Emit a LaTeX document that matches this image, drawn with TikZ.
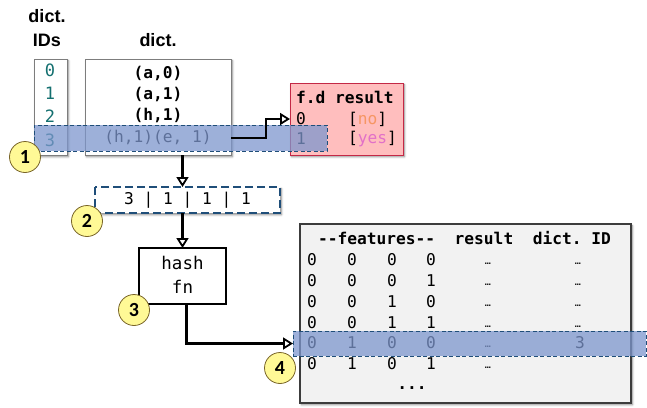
\documentclass[tikz,border=0pt]{standalone}
\usepackage{fontspec}
\setmainfont{Liberation Sans}
\newfontfamily\codefont{DejaVu Sans Mono}
\newfontfamily\markfont{Carlito}
\usetikzlibrary{arrows.meta,shadows.blur,calc}

\definecolor{idteal}{RGB}{20,112,112}
\definecolor{boxgray}{RGB}{125,125,125}
\definecolor{fdpink}{RGB}{255,190,190}
\definecolor{fdred}{RGB}{196,40,70}
\definecolor{noorange}{RGB}{246,150,100}
\definecolor{yespink}{RGB}{226,112,200}
\definecolor{bandblue}{RGB}{125,150,205}
\definecolor{bandedge}{RGB}{31,78,121}
\definecolor{markyellow}{RGB}{255,249,150}
\definecolor{markedge}{RGB}{120,100,40}
\definecolor{tabfill}{RGB}{242,242,242}
\definecolor{tabedge}{RGB}{60,60,60}

\tikzset{
  softshadow/.style={blur shadow={shadow xshift=1.5pt, shadow yshift=-1.8pt,
      shadow blur steps=5, shadow blur radius=2pt, shadow opacity=45}},
  % a shadowed, borderless card; its outline is stroked afterwards
  card/.style={fill=white, anchor=north west, outer sep=0pt, inner sep=0pt, softshadow},
  outline/.style={draw=boxgray, line width=1pt},
  title/.style={font=\fontsize{18}{20}\selectfont\bfseries, inner sep=0pt},
  code/.style={font=\codefont\fontsize{16.2}{18}\selectfont, inner sep=0pt},
  codeb/.style={font=\codefont\bfseries\fontsize{16.2}{18}\selectfont, inner sep=0pt},
  bigcode/.style={font=\codefont\fontsize{17.5}{20}\selectfont, inner sep=0pt},
  dots/.style={font=\codefont\fontsize{10}{12}\selectfont, inner sep=0pt},
  idtxt/.style={font=\codefont\fontsize{17}{18}\selectfont, inner sep=0pt, text=idteal},
  band/.style={draw=bandedge, dash pattern=on 4pt off 2.5pt, line width=1pt,
      fill=bandblue, fill opacity=0.75, anchor=north west, outer sep=0pt,
      inner sep=0pt},
  keyline/.style={draw=bandedge, dash pattern=on 8pt off 4pt, line width=2.6pt},
  marker/.style={circle, draw=markedge, line width=0.8pt, fill=markyellow,
      minimum size=31pt, inner sep=0pt,
      font=\markfont\bfseries\fontsize{20}{20}\selectfont},
  flow/.style={line width=2.2pt,
      -{Triangle[open, length=10pt, width=12pt, line width=1.8pt, fill=white]}},
}

\begin{document}
\begin{tikzpicture}[x=1pt, y=-1pt]
\useasboundingbox (0,0) rectangle (647,407);

% column headings
\node[title] (hdid1) at (47,16) {dict.};
\node[title] (hdid2) at (47,40) {IDs};
\node[title] (hddict) at (158,40) {dict.};

% dictionary and its ids
\node[card, minimum width=33pt, minimum height=96pt] (ids) at (34,59) {};
\node[card, minimum width=146pt, minimum height=96pt] (dict) at (85,59) {};
\draw[outline] (ids.north west) rectangle (ids.south east);
\draw[outline] (dict.north west) rectangle (dict.south east);

\node[idtxt] (id0) at (50,70) {0};
\node[idtxt] (id1) at (50,93) {1};
\node[idtxt] (id2) at (50,116) {2};
\node[idtxt] (id3) at (50,140) {3};

\node[codeb] (d0) at (158,73) {(a,0)};
\node[codeb] (d1) at (158,94) {(a,1)};
\node[codeb] (d2) at (158,115) {(h,1)};
\node[code] (d3) at (158,137) {(h,1)(e, 1)};

% lookup result table
\node[card, fill=fdpink, minimum width=113pt, minimum height=72pt] (fd) at (290,83) {};
\draw[outline, draw=fdred] (fd.north west) rectangle (fd.south east);
\node[codeb, anchor=west] (fdh) at (296,97) {f.d result};
\node[code, anchor=west] (fd0) at (296,119) {0};
\node[code, anchor=west] (fd0v) at (348,119) {[\textcolor{noorange}{no}]};
\node[code, anchor=west] (fd1) at (296,139) {1};
\node[code, anchor=west] (fd1v) at (348,139) {[\textcolor{yespink}{yes}]};

% feature key
\node[card, minimum width=185pt, minimum height=26pt] (key) at (95,187) {};
\draw[keyline] (key.north west) rectangle (key.south east);
\node[code] (keytxt) at (187.5,200) {3 | 1 | 1 | 1};

% hash function
\node[draw, line width=1.6pt, anchor=north west, minimum width=87pt,
      minimum height=56pt, outer sep=0pt, inner sep=0pt] (hash) at (139,248) {};
\node[bigcode] (hash1) at (182.5,263) {hash};
\node[bigcode] (hash2) at (182.5,287) {fn};

% feature table
\node[card, fill=tabfill, minimum width=331pt, minimum height=179pt] (tab) at (300,224) {};
\draw[outline, draw=tabedge, line width=1.5pt] (tab.north west) rectangle (tab.south east);
\node[codeb, anchor=west] (tabh) at (318,238)
  {-{}-features-{}-\ \ result\ \ dict.\ ID};

\foreach \r/\y/\a/\b/\c/\d/\res/\did in {
    1/260/0/0/0/0/{…}/{…},
    2/281/0/0/0/1/{…}/{…},
    3/302/0/0/1/0/{…}/{…},
    4/323/0/0/1/1/{…}/{…},
    5/343/0/1/0/0/{…}/{},
    6/364/0/1/0/1/{…}/{}} {
  \node[code] (ra\r) at (312,\y) {\a};
  \node[code] (rb\r) at (352,\y) {\b};
  \node[code] (rc\r) at (392,\y) {\c};
  \node[code] (rd\r) at (431,\y) {\d};
  \node[dots] (rr\r) at (488,\y+4) {\res};
  \node[dots] (ri\r) at (578,\y+4) {\did};
}
\node[code] (rid5) at (580,343) {3};
\node[codeb] (tabmore) at (412,388) {...};

% connectors
\draw[flow] (dict.south -| hash.north) -- (key.north -| hash.north);
\draw[flow] (key.south -| hash.north) -- (hash.north);

% highlighted rows
\node[band, minimum width=293pt, minimum height=26pt] (hl1) at (34,125) {};
\node[band, minimum width=353pt, minimum height=25pt] (hl4) at (293,331) {};

\draw[flow] (hl1.center -| dict.east) -- ++(35,0) |- (fd.west |- fd0.center);
\draw[flow] ($(hash.south)+(4,0)$) |- (hl4.west);

% step markers
\node[marker] (m1) at (25,157) {1};
\node[marker] (m2) at (87,221) {2};
\node[marker] (m3) at (134,310) {3};
\node[marker] (m4) at (280,368) {4};
\end{tikzpicture}
\end{document}
